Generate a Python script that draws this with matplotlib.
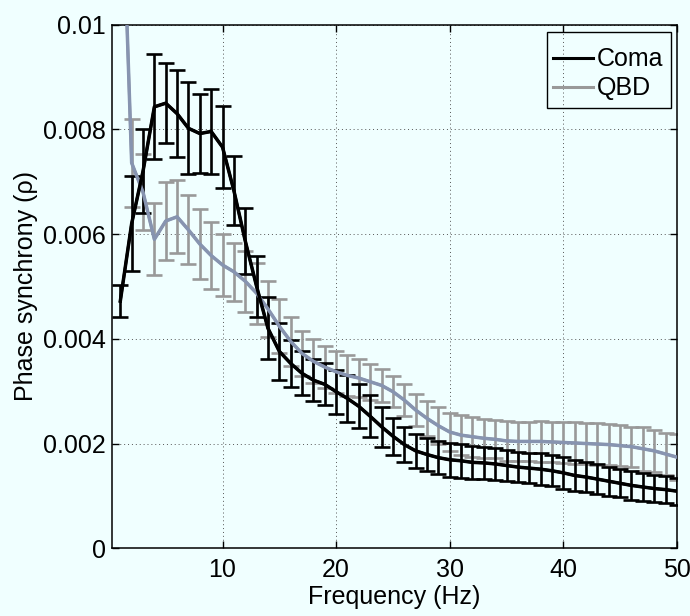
import numpy as np
import matplotlib
matplotlib.use("Agg")
import matplotlib.pyplot as plt
from matplotlib.patches import Rectangle

"""Phase synchrony spectrum, Coma vs QBD, with error bars"""

freq = np.arange(1, 51)

coma_mean = [0.00472, 0.0062, 0.0072, 0.00843, 0.0085, 0.0083, 0.00802, 0.00792, 0.00796, 0.00766,
             0.00683, 0.00587, 0.0050, 0.0042, 0.00376, 0.00353, 0.00334, 0.00321, 0.00313, 0.00299,
             0.00286, 0.00271, 0.00252, 0.00232, 0.00214, 0.00198, 0.00186, 0.00179, 0.00173, 0.00169,
             0.00167, 0.00164, 0.00163, 0.00161, 0.00158, 0.00155, 0.00153, 0.00151, 0.00148, 0.00144,
             0.00139, 0.00136, 0.00132, 0.00128, 0.00124, 0.0012, 0.00117, 0.00114, 0.00112, 0.00109]
coma_err = [0.00031, 0.0009, 0.0008, 0.001, 0.00077, 0.00083, 0.00088, 0.00075, 0.00082, 0.00078,
            0.00066, 0.00063, 0.00058, 0.00059, 0.00054, 0.00045, 0.00042, 0.0004, 0.0004, 0.00042,
            0.00044, 0.00042, 0.0004, 0.00038, 0.00035, 0.00034, 0.00032, 0.00031, 0.00031, 0.00032,
            0.00032, 0.00031, 0.00031, 0.0003, 0.0003, 0.00029, 0.00029, 0.0003, 0.0003, 0.0003,
            0.00029, 0.00029, 0.00028, 0.00028, 0.00027, 0.00027, 0.00027, 0.00026, 0.00026, 0.00026]

qbd_mean = [0.0138, 0.00736, 0.0068, 0.0059, 0.00625, 0.00633, 0.00608, 0.00581, 0.00559, 0.00541,
            0.00528, 0.0051, 0.00487, 0.00457, 0.00424, 0.00395, 0.00372, 0.00357, 0.00346, 0.00337,
            0.0033, 0.00325, 0.00318, 0.00311, 0.00299, 0.00283, 0.00264, 0.00248, 0.00234, 0.00222,
            0.00216, 0.00213, 0.0021, 0.00208, 0.00205, 0.00204, 0.00204, 0.00204, 0.00203, 0.00202,
            0.00201, 0.002, 0.00199, 0.00198, 0.00196, 0.00194, 0.0019, 0.00186, 0.0018, 0.00174]
qbd_err = [0.0015, 0.00084, 0.00072, 0.00069, 0.00074, 0.0007, 0.00066, 0.00066, 0.00064, 0.0006,
           0.00055, 0.00058, 0.00058, 0.00053, 0.00052, 0.00046, 0.00043, 0.00042, 0.0004, 0.0004,
           0.00039, 0.00036, 0.00034, 0.00031, 0.0003, 0.0003, 0.00031, 0.00033, 0.00035, 0.00037,
           0.00038, 0.00038, 0.00037, 0.00036, 0.00038, 0.00038, 0.00038, 0.00039, 0.00039, 0.0004,
           0.0004, 0.0004, 0.0004, 0.00039, 0.00039, 0.00038, 0.00042, 0.0004, 0.0004, 0.00044]

x_ticks = [10, 20, 30, 40, 50]
y_ticks = [0, 0.002, 0.004, 0.006, 0.008, 0.01]
y_tick_labels = ["0", "0.002", "0.004", "0.006", "0.008", "0.01"]

plt.rcParams["font.family"] = ["Liberation Sans", "DejaVu Sans"]
plt.rcParams["font.size"] = 18

bg = "#F0FFFF"
fig = plt.figure(figsize=(6.9, 6.16), dpi=100, facecolor=bg)
ax = fig.add_axes([0.162, 0.110, 0.819, 0.850], facecolor=bg)

# error bars first, mean curves on top
qbd_bars = ax.errorbar(freq, qbd_mean, yerr=qbd_err, color="#999999", lw=2,
                       elinewidth=1.9, capsize=6, capthick=1.9, zorder=2)
coma_bars = ax.errorbar(freq, coma_mean, yerr=coma_err, color="black", lw=2,
                        elinewidth=1.9, capsize=6, capthick=1.9, zorder=3)
ax.plot(freq, qbd_mean, color="#8794B0", lw=2.5, zorder=4)
ax.plot(freq, coma_mean, color="black", lw=2.5, zorder=5)

ax.set_xlim(0.25, 50)
ax.set_ylim(0, 0.01)
ax.set_xticks(x_ticks)
ax.set_yticks(y_ticks)
ax.set_yticklabels(y_tick_labels)
ax.tick_params(direction="in", length=5, width=1, top=True, right=True, pad=7)
ax.tick_params(axis="y", pad=4)
ax.grid(True, linestyle=(0, (1, 3)), color="#555555", linewidth=0.7)
for sp in ax.spines.values():
    sp.set_linewidth(1.1)

ax.set_xlabel("Frequency (Hz)", labelpad=2)
ax.set_ylabel("Phase synchrony (\u03c1)", labelpad=4)

# legend entries without frame, box drawn separately (taller than mpl's)
leg = ax.legend([coma_bars.lines[0], qbd_bars.lines[0]], ["Coma", "QBD"],
                loc="upper right", bbox_to_anchor=(1.0, 0.983), frameon=False,
                handlelength=1.6, handletextpad=0.15, borderpad=0.25,
                labelspacing=0.2, borderaxespad=0.3)
for h in leg.legend_handles:
    h.set_linewidth(2.2)
ax.add_patch(Rectangle((0.770, 0.840), 0.2187, 0.145, transform=ax.transAxes,
                       facecolor="none", edgecolor="black", lw=1, zorder=6))

fig.savefig("out.png", dpi=100, facecolor=bg)
